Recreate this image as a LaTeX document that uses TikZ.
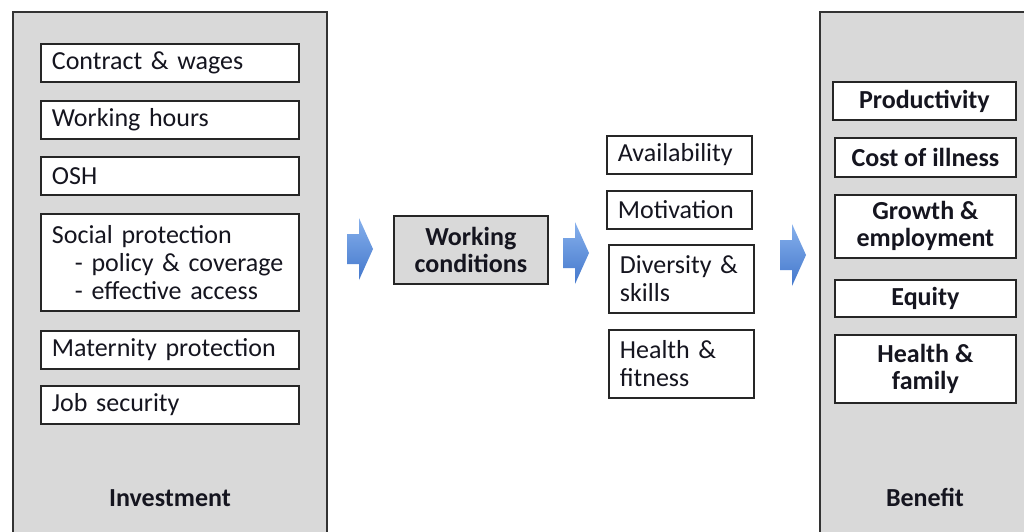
\documentclass[tikz,border=0pt]{standalone}
\usepackage{fontspec}
\setmainfont{Carlito}
\definecolor{panelgray}{HTML}{D9D9D9}
\definecolor{inkdark}{HTML}{15151F}
\definecolor{arrowtop}{HTML}{86B0EC}
\definecolor{arrowbot}{HTML}{4478CC}
\tikzset{
  panel/.style={draw=black!80, fill=panelgray, line width=1.8pt},
  lbox/.style={draw=black!85, fill=white, line width=1.8pt, text=inkdark,
    font=\fontsize{26}{28}\selectfont, align=left, inner xsep=11pt, inner ysep=0pt,
    anchor=north west},
  rbox/.style={draw=black!85, fill=white, line width=1.8pt, text=inkdark,
    font=\bfseries\fontsize{26}{27}\selectfont, align=center, inner sep=0pt,
    anchor=north west},
  wcbox/.style={rbox, fill=panelgray},
  caption/.style={text=inkdark, font=\bfseries\fontsize{26}{28}\selectfont},
  arrowfill/.style={top color=arrowtop, bottom color=arrowbot, draw=none}
}
% block arrow: left x, centre y
\newcommand{\blockarrow}[2]{%
  \shade[arrowfill] (#1,#2-15) -- (#1+12,#2-15) -- (#1+12,#2-31) -- (#1+26,#2)
    -- (#1+12,#2+31) -- (#1+12,#2+15) -- (#1,#2+15) -- cycle;}
\begin{document}
\begin{tikzpicture}[x=1pt,y=-1pt]
\useasboundingbox (0,0) rectangle (1024,531);
\fill[white] (0,0) rectangle (1024,531);

% side panels
\draw[panel] (13,12) rectangle (327,545);
\draw[panel] (820,12) rectangle (1035,545);
\node[caption] (inv) at (170,498) {Investment};
\node[caption] (ben) at (925,497) {Benefit};

% investment items
\node[lbox, text width=236pt, minimum height=38pt] (cw) at (40,43) {Contract \& wages};
\node[lbox, text width=236pt, minimum height=38pt] (wh) at (40,100) {Working hours};
\node[lbox, text width=236pt, minimum height=38pt] (osh) at (40,156) {OSH};
\node[lbox, text width=236pt, minimum height=97pt] (sp) at (40,213)
  {Social protection\\\hspace*{23pt}- policy \& coverage\\\hspace*{23pt}- effective access};
\node[lbox, text width=236pt, minimum height=38pt] (mp) at (40,330) {Maternity protection};
\node[lbox, text width=236pt, minimum height=38pt] (js) at (40,385) {Job security};

% working conditions
\node[wcbox, minimum width=154pt, minimum height=68pt] (wc) at (393,215) {Working\\conditions};

% outcomes
\node[lbox, text width=123pt, minimum height=38pt] (av) at (606,135) {Availability};
\node[lbox, text width=123pt, minimum height=38pt] (mo) at (606,190) {Motivation};
\node[lbox, text width=123pt, minimum height=68pt] (ds) at (608,244) {Diversity \&\\skills};
\node[lbox, text width=123pt, minimum height=68pt] (hf) at (608,329) {Health \&\\fitness};

% benefits
\node[rbox, minimum width=183pt, minimum height=38pt] (pr) at (832,81) {Productivity};
\node[rbox, minimum width=181pt, minimum height=39pt] (ci) at (834,137) {Cost of illness};
\node[rbox, minimum width=181pt, minimum height=63pt] (ge) at (834,194) {Growth \&\\employment};
\node[rbox, minimum width=181pt, minimum height=37pt] (eq) at (834,279) {Equity};
\node[rbox, minimum width=181pt, minimum height=68pt] (hfa) at (834,334) {Health \&\\family};

% flow arrows
\blockarrow{347}{249}
\blockarrow{563}{253}
\blockarrow{780}{255}
\end{tikzpicture}
\end{document}
